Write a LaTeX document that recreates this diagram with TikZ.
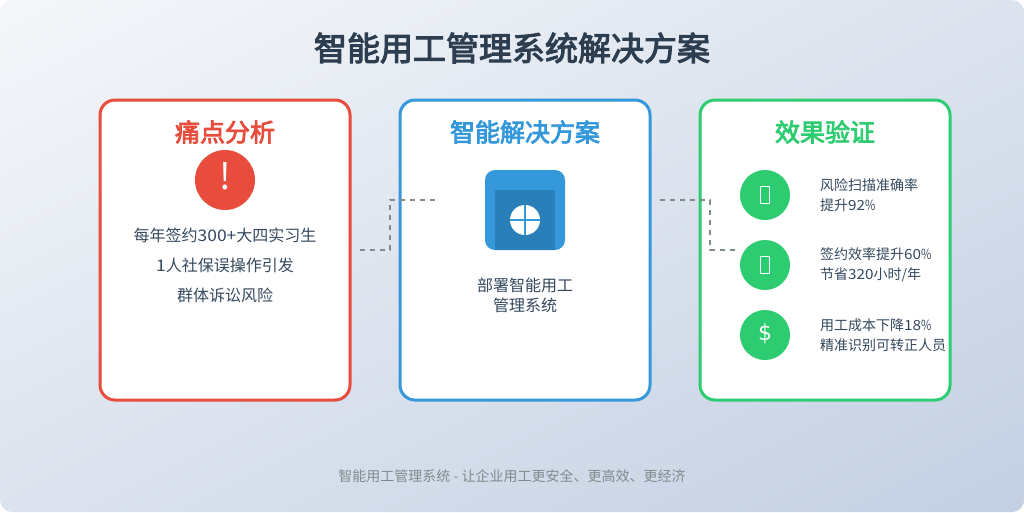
\documentclass[tikz,border=0pt]{standalone}
\usepackage{fontspec}
\setmainfont{Noto Sans CJK SC}
\newfontfamily\titlefont[FakeBold=3.2]{Noto Sans CJK SC}
\newfontfamily\digits[FakeStretch=1.09]{Noto Sans CJK SC}
\newfontfamily\pct[FakeStretch=0.8]{Noto Sans CJK SC}
\newfontfamily\symb{DejaVu Sans}
\newcommand{\dg}[1]{{\digits #1}}
\newcommand{\pc}{{\pct\%}}
\definecolor{bgA}{HTML}{F5F7FA}
\definecolor{bgB}{HTML}{C3CFE2}
\definecolor{ink}{HTML}{2C3E50}
\definecolor{inkB}{HTML}{34495E}
\definecolor{redC}{HTML}{E74C3C}
\definecolor{blueC}{HTML}{3498DB}
\definecolor{blueD}{HTML}{2980B9}
\definecolor{greenC}{HTML}{2ECC71}
\definecolor{dashC}{HTML}{7F8C8D}
\pgfdeclarehorizontalshading{bgshade}{100bp}{color(0bp)=(bgA); color(100bp)=(bgB)}
\tikzset{
 x=1pt,y=-1pt,
 card/.style={draw=#1,line width=3pt,fill=white,rounded corners=15pt},
 cardtitle/.style={font=\titlefont\fontsize{25}{25}\selectfont,text=#1,inner sep=0pt,anchor=center},
 body/.style={font=\fontsize{16}{16}\selectfont,text=inkB,inner sep=0pt,anchor=center},
 small/.style={font=\fontsize{14}{20}\selectfont,text=inkB,inner sep=0pt,anchor=west,align=left},
 flow/.style={draw=dashC,line width=2pt,dash pattern=on 5pt off 5pt},
 badge/.style={circle,fill=greenC,minimum size=50pt,inner sep=0pt},
}
\begin{document}
\begin{tikzpicture}
\useasboundingbox (0,0) rectangle (1024,512);
\begin{scope}
\clip[rounded corners=12pt] (0,0) rectangle (1024,512);
\begin{scope}[transform canvas={shift={(512,256)},rotate=-63.435,xscale=9.125,yscale=14}]
\node[inner sep=0pt] at (0,0) {\pgfuseshading{bgshade}};
\end{scope}
\end{scope}
\node[font=\titlefont\fontsize{33}{33}\selectfont,text=ink,inner sep=0pt] (title) at (512,48) {智能用工管理系统解决方案};
\draw[card=redC] (100,100) rectangle (350,400);
\draw[card=blueC] (400,100) rectangle (650,400);
\draw[card=greenC] (700,100) rectangle (950,400);
\node[cardtitle=redC] (t1) at (225,132) {痛点分析};
\node[cardtitle=blueC] (t2) at (525,132) {智能解决方案};
\node[cardtitle=greenC] (t3) at (825,132) {效果验证};
\node[circle,fill=redC,minimum size=60pt,inner sep=0pt] (alert) at (225,180) {};
\node[font=\fontsize{36}{36}\selectfont,text=white,inner sep=0pt] (mark) at (225,176) {!};
\node[body] (l1) at (225,235) {每年签约\dg{300+}大四实习生};
\node[body] (l2) at (225,265) {\dg{1}人社保误操作引发};
\node[body] (l3) at (225,295) {群体诉讼风险};
\fill[blueC,rounded corners=10pt] (485,170) rectangle (565,250);
\fill[blueD] (495,190) rectangle (555,250);
\node[circle,fill=white,minimum size=30pt,inner sep=0pt] (hub) at (525,220) {};
\draw[blueC,line width=2pt] (hub.north) -- (hub.south);
\draw[blueC,line width=2pt] (hub.west) -- (hub.east);
\node[body] (s1) at (525,285) {部署智能用工};
\node[body] (s2) at (525,305) {管理系统};
\node[badge] (b1) at (765,195) {};
\node[badge] (b2) at (765,265) {};
\node[badge] (b3) at (765,335) {};
\draw[white,line width=1pt] (760,186) rectangle (769,203);
\draw[white,line width=1pt] (760,256) rectangle (769,273);
\node[font=\symb\fontsize{22}{22}\selectfont,text=white,inner sep=0pt] at (765,334) {\$};
\node[small] (e1) at (820,195) {风险扫描准确率\\提升\dg{92}\pc};
\node[small] (e2) at (820,265) {签约效率提升\dg{60}\pc\\节省\dg{320}小时/年};
\node[small] (e3) at (820,335) {用工成本下降\dg{18}\pc\\精准识别可转正人员};
\coordinate (a1) at (360,250);
\coordinate (a2) at (390,250);
\coordinate (a3) at (390,200);
\coordinate (a4) at (435,200);
\coordinate (c1) at (660,200);
\coordinate (c2) at (710,200);
\coordinate (c3) at (710,250);
\coordinate (c4) at (735,250);
\draw[flow] (a1) -- (a2) -- (a3) -- (a4);
\draw[flow] (c1) -- (c2) -- (c3) -- (c4);
\node[font=\fontsize{14}{14}\selectfont,text=dashC,inner sep=0pt] (foot) at (512,476) {智能用工管理系统 - 让企业用工更安全、更高效、更经济};
\end{tikzpicture}
\end{document}
